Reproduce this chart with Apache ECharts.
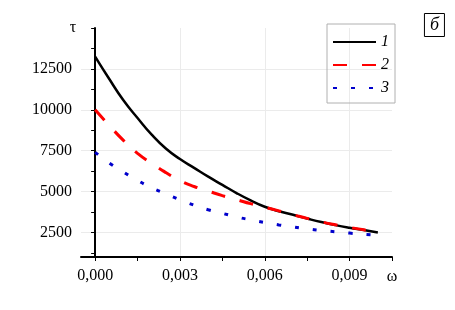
<!DOCTYPE html>
<html>
<head>
<meta charset="utf-8">
<script src="https://cdn.jsdelivr.net/npm/echarts@6/dist/echarts.min.js"></script>
<style>
  html, body { margin: 0; padding: 0; background: #fff; }
  #chart { width: 455px; height: 310px; }
</style>
</head>
<body>
<div id="chart"></div>
<script>
// donnees
var omega = [0, 0.0005, 0.001, 0.0015, 0.002, 0.0025, 0.003, 0.0035, 0.004, 0.0045, 0.005,
             0.0055, 0.006, 0.0065, 0.007, 0.0075, 0.008, 0.0085, 0.009, 0.0095, 0.01];
var tau1 = [13250, 11880, 10580, 9500, 8480, 7630, 6990, 6450, 5910, 5410, 4910,
            4460, 4070, 3800, 3580, 3350, 3135, 2950, 2790, 2650, 2500];
var tau2 = [10000, 9040, 8130, 7340, 6720, 6160, 5670, 5310, 5030, 4750, 4510,
            4260, 4040, 3820, 3590, 3360, 3150, 2970, 2810, 2660, 2530];
var tau3 = [7400, 6750, 6200, 5680, 5230, 4860, 4500, 4170, 3890, 3670, 3450,
            3270, 3110, 2960, 2840, 2720, 2620, 2540, 2460, 2390, 2340];
var names = ['1', '2', '3'];
var xMajor = [0, 0.003, 0.006, 0.009];
var xTicks = [0, 0.0015, 0.003, 0.0045, 0.006, 0.0075, 0.009, 0.0105];
var yMajor = [2500, 5000, 7500, 10000, 12500];
var yTicks = [1250, 2500, 3750, 5000, 6250, 7500, 8750, 10000, 11250, 12500, 13750, 15000];

var fontFamily = '"Liberation Serif", "DejaVu Serif", serif';

function pairs(ys) {
  return omega.map(function (x, i) { return [x, ys[i]]; });
}

var chart = echarts.init(document.getElementById('chart'), null, {renderer: 'canvas'});

var axisLine = {show: true, lineStyle: {color: '#000', width: 2}};
var gridLine = {show: true, lineStyle: {color: '#ebebeb', width: 1}};

var option = {
  animation: false,
  backgroundColor: '#fff',
  title: {
    text: 'б',
    right: 10,
    top: 13,
    padding: [3, 6, 3, 6],
    borderColor: '#000',
    borderWidth: 1,
    textStyle: {
      fontFamily: fontFamily,
      fontStyle: 'italic',
      fontWeight: 'normal',
      fontSize: 18,
      lineHeight: 18,
      color: '#000'
    }
  },
  grid: {left: 81, right: 63, top: 28, bottom: 53},
  legend: {
    orient: 'vertical',
    left: 327,
    top: 24,
    padding: [10, 6, 7, 5],
    itemWidth: 43,
    itemHeight: 14,
    itemGap: 7,
    borderColor: '#b0b0b0',
    borderWidth: 1,
    data: names,
    itemStyle: {opacity: 0},   // pas de symbole, seulement le trait
    textStyle: {
      fontFamily: fontFamily,
      fontStyle: 'italic',
      fontSize: 16,
      color: '#000'
    }
  },
  xAxis: [
    {
      type: 'value',
      min: -0.0005,
      max: 0.0105,
      position: 'bottom',
      name: 'ω',
      nameLocation: 'end',
      nameGap: 0,
      nameTextStyle: {
        fontFamily: fontFamily,
        fontSize: 16,
        color: '#000',
        align: 'center',
        verticalAlign: 'top',
        padding: [12, 0, 0, 0]
      },
      axisLine: axisLine,
      axisTick: {show: true, length: 4, customValues: xMajor, lineStyle: {color: '#000', width: 1}},
      axisLabel: {
        customValues: xMajor,
        margin: 11,
        fontFamily: fontFamily,
        fontSize: 16,
        color: '#000',
        formatter: function (v) { return v.toFixed(3).replace('.', ','); }
      },
      splitLine: gridLine
    },
    {
      // petites graduations
      type: 'value',
      min: -0.0005,
      max: 0.0105,
      position: 'bottom',
      axisLine: {show: false},
      axisLabel: {show: false},
      splitLine: {show: false},
      axisTick: {show: true, length: 4, customValues: xTicks, lineStyle: {color: '#000', width: 1}}
    }
  ],
  yAxis: [
    {
      type: 'value',
      min: 1000,
      max: 15000,
      position: 'left',
      name: 'τ',
      nameLocation: 'end',
      nameGap: 0,
      nameTextStyle: {
        fontFamily: fontFamily,
        fontSize: 16,
        color: '#000',
        align: 'right',
        verticalAlign: 'middle',
        padding: [0, 19, 0, 0]
      },
      axisLine: axisLine,
      axisTick: {show: true, length: 4, customValues: yMajor, lineStyle: {color: '#000', width: 1}},
      axisLabel: {
        customValues: yMajor,
        margin: 9,
        fontFamily: fontFamily,
        fontSize: 16,
        color: '#000',
        formatter: function (v) { return String(v); }
      },
      splitLine: gridLine
    },
    {
      type: 'value',
      min: 1000,
      max: 15000,
      position: 'left',
      axisLine: {show: false},
      axisLabel: {show: false},
      splitLine: {show: false},
      axisTick: {show: true, length: 4, customValues: yTicks, lineStyle: {color: '#000', width: 1}}
    }
  ],
  series: [
    {
      name: names[0],
      type: 'line',
      smooth: true,
      symbol: 'none',
      data: pairs(tau1),
      lineStyle: {color: '#000', width: 2.5},
      itemStyle: {color: '#000'}
    },
    {
      name: names[1],
      type: 'line',
      smooth: true,
      symbol: 'none',
      data: pairs(tau2),
      lineStyle: {color: '#f00', width: 3, type: [14, 15]},
      itemStyle: {color: '#f00'}
    },
    {
      name: names[2],
      type: 'line',
      smooth: true,
      symbol: 'none',
      data: pairs(tau3),
      lineStyle: {color: '#0000cc', width: 3, type: [4, 14]},
      itemStyle: {color: '#0000cc'}
    }
  ]
};

option && chart.setOption(option);
</script>
</body>
</html>
